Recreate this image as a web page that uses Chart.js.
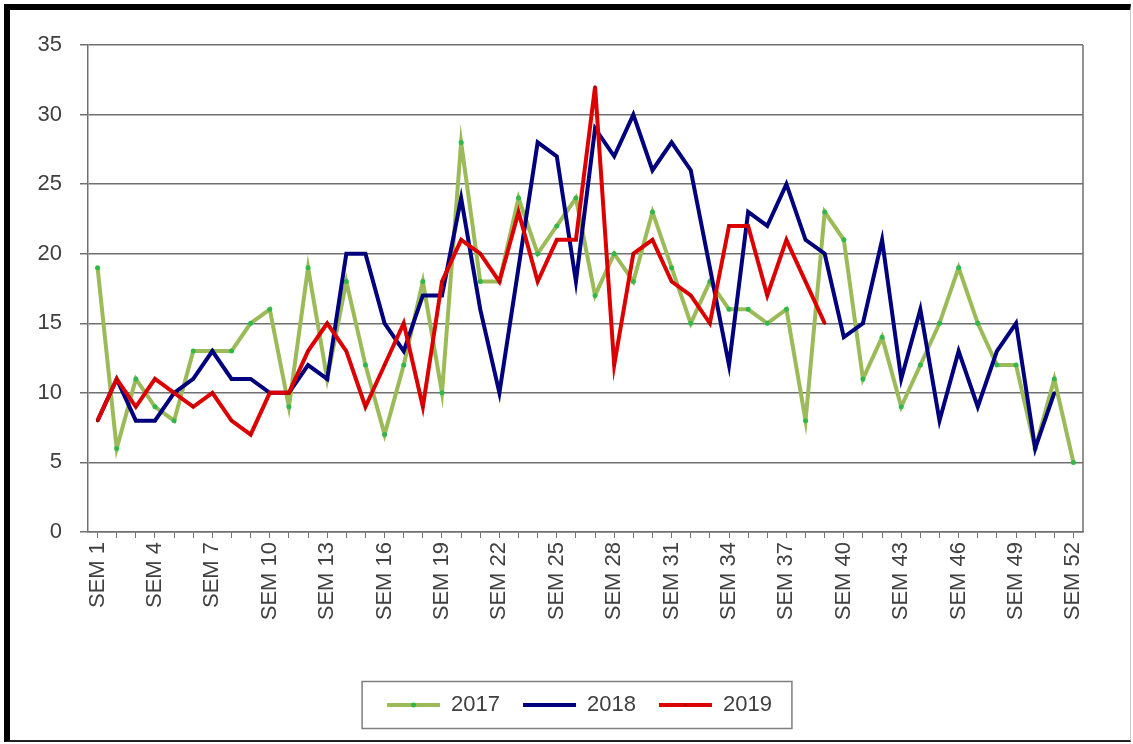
<!DOCTYPE html>
<html>
<head>
<meta charset="utf-8">
<script src="https://cdn.jsdelivr.net/npm/chart.js@4.4.1/dist/chart.umd.min.js"></script>
<style>
  html, body { margin: 0; padding: 0; background: #fff; }
  #wrap { position: relative; width: 1133px; height: 744px; }
  #frame {
    position: absolute; left: 4px; top: 4px; right: 2px; bottom: 2px;
    border-left: 6px solid #000; border-top: 6px solid #000;
    border-right: 1px solid #c8c8c8; border-bottom: 2px solid #222;
    pointer-events: none;
  }
</style>
</head>
<body>
<div id="wrap">
  <canvas id="grafico" width="1133" height="744"></canvas>
  <div id="frame"></div>
</div>
<script>
// Semanas (categorias)
const semanas = Array.from({ length: 52 }, (_, i) => 'SEM ' + (i + 1));

// Valores
const valores2017 = [19, 6, 11, 9, 8, 13, 13, 13, 15, 16, 9, 19, 11, 18, 12, 7, 12, 18, 10, 28,
  18, 18, 24, 20, 22, 24, 17, 20, 18, 23, 19, 15, 18, 16, 16, 15, 16, 8, 23, 21,
  11, 14, 9, 12, 15, 19, 15, 12, 12, 6, 11, 5];
const valores2018 = [8, 11, 8, 8, 10, 11, 13, 11, 11, 10, 10, 12, 11, 20, 20, 15, 13, 17, 17, 24,
  16, 10, 19, 28, 27, 18, 29, 27, 30, 26, 28, 26, 19, 12, 23, 22, 25, 21, 20, 14,
  15, 21, 11, 16, 8, 13, 9, 13, 15, 6, 10, null];
const valores2019 = [8, 11, 9, 11, 10, 9, 10, 8, 7, 10, 10, 13, 15, 13, 9, 12, 15, 9, 18, 21,
  20, 18, 23, 18, 21, 21, 32, 12, 20, 21, 18, 17, 15, 22, 22, 17, 21, 18, 15];

// Ticks do eixo Y
const yMin = 0;
const yMax = 35;
const yPasso = 5;

const corTexto = '#404040';
const corGrade = '#707070';
const fonte = { family: 'Liberation Sans', size: 22 };
const deslocLegenda = 38; // legenda um pouco à direita, como no original

// Desenha a moldura da legenda e os marcadores no meio das linhas
const bordaLegenda = {
  id: 'bordaLegenda',
  afterUpdate(chart) {
    const lg = chart.legend;
    lg.left += deslocLegenda;
    lg.right += deslocLegenda;
    lg.legendHitBoxes.forEach(b => { b.left += deslocLegenda; });
  },
  afterDraw(chart) {
    const boxes = chart.legend.legendHitBoxes;
    if (!boxes || !boxes.length) return;
    const first = boxes[0];
    const last = boxes[boxes.length - 1];
    const cy = first.top + first.height / 2;
    const ctx = chart.ctx;
    ctx.save();
    ctx.strokeStyle = '#7f7f7f';
    ctx.lineWidth = 1.5;
    ctx.strokeRect(first.left - 25, cy - 23.5, (last.left + last.width + 20) - (first.left - 25), 47);
    // marcadores no meio das linhas da legenda
    const ds = chart.data.datasets;
    boxes.forEach((b, i) => {
      ctx.fillStyle = ds[i].pointBackgroundColor;
      ctx.beginPath();
      ctx.arc(b.left + 26.5, cy, ds[i].pointRadius, 0, Math.PI * 2);
      ctx.fill();
    });
    ctx.restore();
  }
};

new Chart(document.getElementById('grafico').getContext('2d'), {
  type: 'line',
  data: {
    labels: semanas,
    datasets: [
      {
        label: '2017',
        data: valores2017,
        borderColor: '#9bbb59',
        backgroundColor: '#9bbb59',
        borderWidth: 4,
        pointRadius: 2.5,
        pointBorderWidth: 0,
        pointBackgroundColor: '#30b84a',
        order: 3
      },
      {
        label: '2018',
        data: valores2018,
        borderColor: '#00007f',
        backgroundColor: '#00007f',
        borderWidth: 4,
        pointRadius: 1.5,
        pointBorderWidth: 0,
        pointBackgroundColor: '#00006a',
        order: 2
      },
      {
        label: '2019',
        data: valores2019,
        borderColor: '#dd0000',
        backgroundColor: '#dd0000',
        borderWidth: 4,
        pointRadius: 1.5,
        pointBorderWidth: 0,
        pointBackgroundColor: '#b00000',
        order: 1
      }
    ]
  },
  options: {
    responsive: false,
    animation: false,
    layout: { padding: { left: 0, right: 50, top: 45, bottom: 18 } },
    elements: { line: { tension: 0 } },
    plugins: {
      tooltip: { enabled: false },
      legend: {
        position: 'bottom',
        labels: {
          sort: (a, b) => a.datasetIndex - b.datasetIndex,
          boxWidth: 53,
          boxHeight: 0,
          color: corTexto,
          font: fonte,
          padding: 23
        }
      }
    },
    scales: {
      x: {
        offset: true,
        afterFit: (scale) => { scale.height = 139; },
        grid: { display: true, drawOnChartArea: false, drawTicks: true, tickLength: 6, color: corGrade },
        border: { color: corGrade, width: 1.5 },
        ticks: {
          autoSkip: false,
          maxRotation: 90,
          minRotation: 90,
          padding: 4,
          color: corTexto,
          font: fonte,
          callback: function (val, i) { return i % 3 === 0 ? this.getLabelForValue(val) : ''; }
        }
      },
      y: {
        min: yMin,
        max: yMax,
        afterFit: (scale) => { scale.width = 88; },
        grid: { color: corGrade, lineWidth: 1.5, tickLength: 8 },
        border: { color: corGrade, width: 1.5 },
        ticks: { stepSize: yPasso, padding: 18, color: corTexto, font: fonte }
      }
    }
  },
  plugins: [bordaLegenda, {
    // borda direita da área do gráfico
    id: 'bordaArea',
    afterDraw(chart) {
      const a = chart.chartArea;
      const ctx = chart.ctx;
      ctx.save();
      ctx.strokeStyle = corGrade;
      ctx.lineWidth = 1.5;
      ctx.beginPath();
      ctx.moveTo(a.right, a.top);
      ctx.lineTo(a.right, a.bottom);
      ctx.stroke();
      ctx.restore();
    }
  }]
});
</script>
</body>
</html>
